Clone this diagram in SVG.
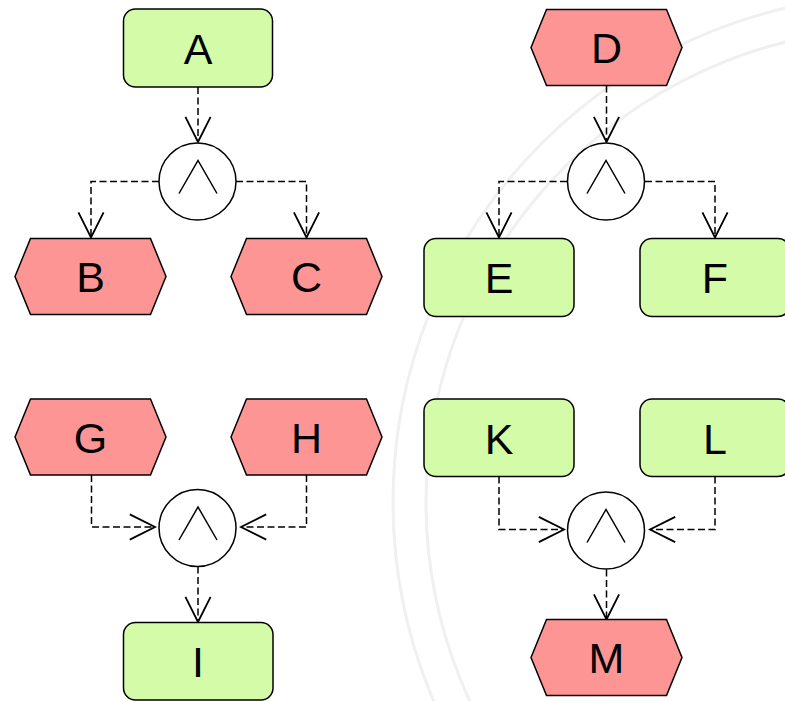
<svg xmlns="http://www.w3.org/2000/svg" width="785" height="701" viewBox="0 0 785 701">
<style>
.fn{fill:#d4fca8;stroke:#000;stroke-width:1.5}
.ev{fill:#fe9595;stroke:#000;stroke-width:1.5}
.op{fill:#fff;stroke:#000;stroke-width:1.5}
.wedge{fill:none;stroke:#000;stroke-width:1.5}
.lbl{font-family:"Liberation Sans",Arial,sans-serif;font-size:43px;fill:#000;text-anchor:middle}
.cn{fill:none;stroke:#000;stroke-width:1.5;stroke-dasharray:7 3.5;marker-end:url(#arr)}
.wm{fill:none;stroke:#f0f0f0;stroke-width:3}
</style>
<defs>
<marker id="arr" markerUnits="userSpaceOnUse" markerWidth="30" markerHeight="30" viewBox="-23 -12 25 24" refX="0" refY="0" orient="auto">
<path d="M-21,-10.5 L0,0 L-21,10.5" fill="none" stroke="#000" stroke-width="1.5"/>
</marker>
</defs>
<rect width="785" height="701" fill="#fff"/>
<g id="watermark">
<circle class="wm" cx="900" cy="502" r="507"/>
<circle class="wm" cx="900" cy="502" r="474"/>
</g>
<g id="connectors">
<path class="cn" d="M198,87 L198,142"/>
<path class="cn" d="M159,181.5 L91,181.5 L91,237.5"/>
<path class="cn" d="M236,181.5 L306.5,181.5 L306.5,237.5"/>
<path class="cn" d="M606.5,85.5 L606.5,142"/>
<path class="cn" d="M567,181.5 L499,181.5 L499,237.5"/>
<path class="cn" d="M645,181.5 L715,181.5 L715,237.5"/>
<path class="cn" d="M91.5,475 L91.5,527 L155,527"/>
<path class="cn" d="M306.5,475 L306.5,527 L241,527"/>
<path class="cn" d="M198,566.5 L198,622"/>
<path class="cn" d="M499,476.5 L499,529.5 L564,529.5"/>
<path class="cn" d="M715,476.5 L715,529.5 L650,529.5"/>
<path class="cn" d="M606.5,569.5 L606.5,619.5"/>
</g>
<g id="A"><rect class="fn" x="123.5" y="9" width="149" height="78" rx="12"/><text class="lbl" x="198" y="63.5">A</text></g>
<g id="and1"><circle class="op" cx="197.5" cy="181.5" r="38.5"/><path class="wedge" d="M179,193.5 L198,160.5 L217,193.5"/></g>
<g id="B"><polygon class="ev" points="15,276.5 30.5,238.5 150.5,238.5 166,276.5 150.5,314.5 30.5,314.5"/><text class="lbl" x="90.5" y="292">B</text></g>
<g id="C"><polygon class="ev" points="231,276.5 246.5,238.5 366.5,238.5 382,276.5 366.5,314.5 246.5,314.5"/><text class="lbl" x="306.5" y="292">C</text></g>
<g id="D"><polygon class="ev" points="531,47.5 546.5,9.5 666.5,9.5 682,47.5 666.5,85.5 546.5,85.5"/><text class="lbl" x="606.5" y="63">D</text></g>
<g id="and2"><circle class="op" cx="606" cy="181.5" r="38.5"/><path class="wedge" d="M587,193.5 L606,160.5 L625,193.5"/></g>
<g id="E"><rect class="fn" x="424" y="238.5" width="150" height="78" rx="12"/><text class="lbl" x="499" y="293">E</text></g>
<g id="F"><rect class="fn" x="640" y="238.5" width="150" height="78" rx="12"/><text class="lbl" x="715" y="293">F</text></g>
<g id="G"><polygon class="ev" points="15,437 30.5,399 150.5,399 166,437 150.5,475 30.5,475"/><text class="lbl" x="90.5" y="452.5">G</text></g>
<g id="H"><polygon class="ev" points="231,437 246.5,399 366.5,399 382,437 366.5,475 246.5,475"/><text class="lbl" x="306.5" y="452.5">H</text></g>
<g id="and3"><circle class="op" cx="197.5" cy="528" r="38.5"/><path class="wedge" d="M179,540 L198,507 L217,540"/></g>
<g id="I"><rect class="fn" x="123.5" y="622.5" width="149.5" height="77.5" rx="12"/><text class="lbl" x="198" y="677">I</text></g>
<g id="K"><rect class="fn" x="424" y="399" width="150" height="77.5" rx="12"/><text class="lbl" x="499" y="453.5">K</text></g>
<g id="L"><rect class="fn" x="640" y="399" width="150" height="77.5" rx="12"/><text class="lbl" x="715" y="453.5">L</text></g>
<g id="and4"><circle class="op" cx="606" cy="530.5" r="38.5"/><path class="wedge" d="M587,542.5 L606,509.5 L625,542.5"/></g>
<g id="M"><polygon class="ev" points="531,657.5 546.5,619.5 666.5,619.5 682,657.5 666.5,695.5 546.5,695.5"/><text class="lbl" x="606.5" y="673">M</text></g>
</svg>
